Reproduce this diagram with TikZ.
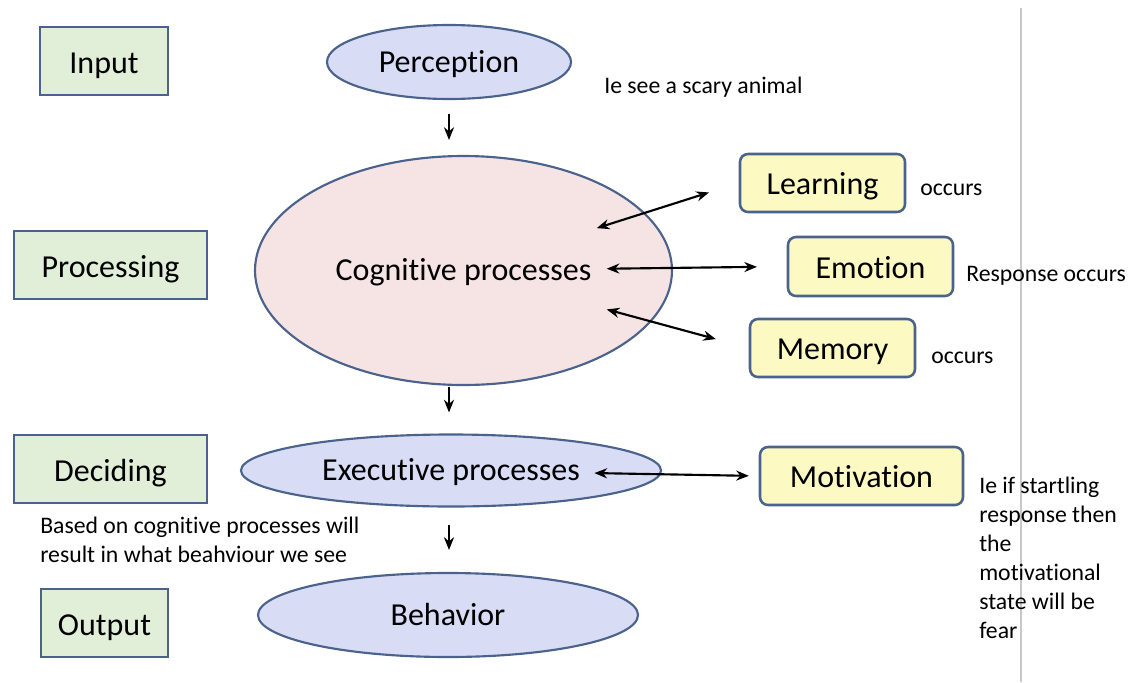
\documentclass[tikz,border=0pt]{standalone}
\usepackage{fontspec}
\setmainfont[Ligatures=NoCommon]{Carlito}
\usetikzlibrary{shapes.geometric,arrows.meta,calc}
\definecolor{stagefill}{RGB}{226,239,216}
\definecolor{edgeblue}{RGB}{74,98,140}
\definecolor{lavender}{RGB}{216,220,244}
\definecolor{blush}{RGB}{246,228,228}
\definecolor{butter}{RGB}{252,249,194}
\definecolor{rule}{RGB}{200,200,200}
\begin{document}
\begin{tikzpicture}[x=0.75pt,y=-0.75pt,
  stage/.style={draw=edgeblue,line width=1.9pt,fill=stagefill,minimum height=51pt,
    inner sep=0pt,text height=18pt,text depth=0pt,font=\fontsize{24}{28}\selectfont},
  proc/.style={ellipse,draw=edgeblue,line width=1.6pt,fill=lavender,inner sep=0pt,
    text height=15pt,text depth=0pt,font=\fontsize{24}{28}\selectfont},
  factor/.style={draw=edgeblue,line width=1.9pt,fill=butter,rounded corners=6pt,
    minimum height=43.5pt,inner sep=0pt,text height=17.5pt,text depth=0pt,
    font=\fontsize{24}{28}\selectfont},
  note/.style={anchor=west,inner sep=0pt,align=left,font=\fontsize{17.8}{21.75}\selectfont},
  arr/.style={-{Stealth[length=9.5pt,width=7.5pt]},line width=1.6pt},
  dbl/.style={{Stealth[length=9.5pt,width=7.5pt]}-{Stealth[length=9.5pt,width=7.5pt]},line width=1.6pt}]
\useasboundingbox (0,0) rectangle (1134,682);

% page divider, behind the text
\draw[rule,line width=1.5pt] (1021,8) -- (1021,682);

% stage labels on the left
\node[stage,minimum width=96pt] (input) at (104,61) {Input};
\node[stage,minimum width=144.75pt] (processing) at (110.5,265) {Processing};
\node[stage,minimum width=144.75pt] (deciding) at (110.5,469) {Deciding};
\node[stage,minimum width=95.25pt] (output) at (104.5,623) {Output};

% main processing chain
\node[proc,minimum width=183pt,minimum height=55.5pt] (perc) at (449,62) {Perception};
\node[proc,fill=blush,minimum width=312.75pt,minimum height=171.75pt] (cog) at (463.5,270.5) {Cognitive processes};
\node[proc,minimum width=315pt,minimum height=54pt] (exec) at (451,470.5) {Executive processes};
\node[proc,minimum width=285pt,minimum height=63pt] (beh) at (448,615) {Behavior};

% contributing factors
\node[factor,minimum width=123.75pt] (learn) at (822.5,183) {Learning};
\node[factor,minimum width=123.75pt,minimum height=44.25pt] (emo) at (870.5,266.5) {Emotion};
\node[factor,minimum width=123.75pt] (mem) at (832.5,348) {Memory};
\node[factor,minimum width=152.25pt] (mot) at (861.5,476) {Motivation};

% annotations
\node[note] (scary) at (604,87.5) {Ie see a scary animal};
\node[note] (occ1) at (920,189.5) {occurs};
\node[note] (occ2) at (966,275.5) {Response occurs};
\node[note] (occ3) at (931,357.5) {occurs};
\node[note,anchor=north west] (fear) at (979,477) {Ie if startling\\response then\\the\\motivational\\state will be\\fear};
\node[note,anchor=north west] (based) at (40,517) {Based on cognitive processes will\\result in what beahviour we see};

% downward flow
\draw[arr,shorten <=10.5pt,shorten >=11.25pt] (perc.south) -- (perc.south |- cog.north);
\draw[arr,shorten <=0.75pt,shorten >=15.75pt] (perc.south |- cog.south) -- (perc.south |- exec.north);
\draw[arr,shorten <=12.75pt,shorten >=16.5pt] (perc.south |- exec.south) -- (perc.south |- beh.north);

% two-way links
\draw[dbl] ($(cog.center)!0.484!(learn.west)$) -- ($(cog.center)!0.892!(learn.west)$);
\draw[dbl] ($(cog.center)!0.443!(emo.west)$) -- ($(cog.center)!0.908!(emo.west)$);
\draw[dbl] ($(cog.center)!0.502!(mem.west)$) -- ($(cog.center)!0.885!(mem.west)$);
\draw[dbl] ($(exec.center)!0.466!(mot.west)$) -- ($(exec.center)!0.968!(mot.west)$);
\end{tikzpicture}
\end{document}
